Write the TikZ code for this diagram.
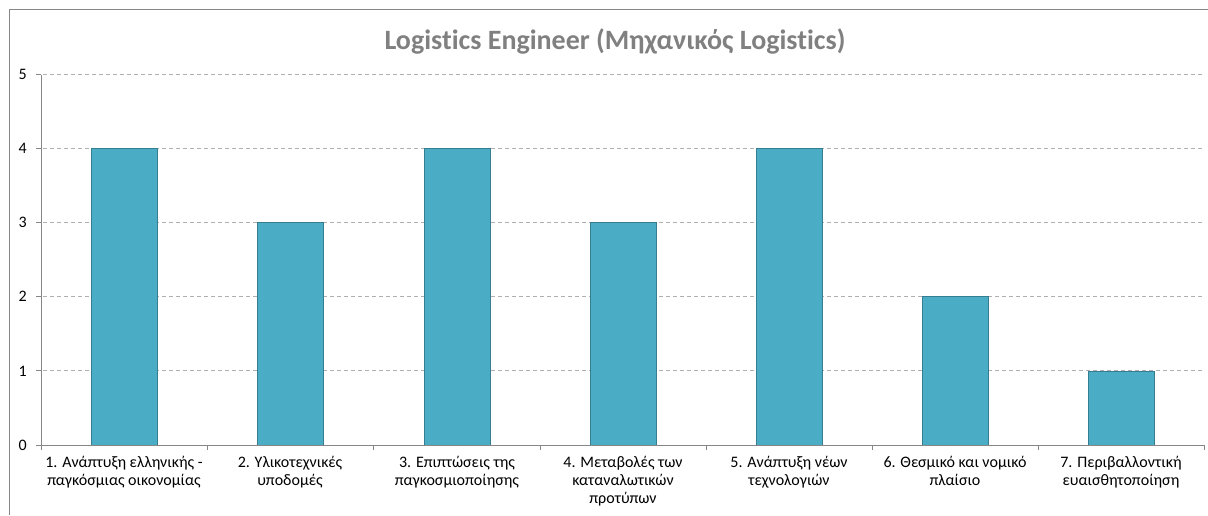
\documentclass[tikz,border=0pt]{standalone}
\usepackage{fontspec}
\setmainfont{Carlito}[Ligatures={NoCommon}]

\definecolor{barfill}{HTML}{4BACC6}
\definecolor{barline}{HTML}{357D91}
\definecolor{gridgray}{HTML}{B0B0B0}
\definecolor{axisgray}{HTML}{868686}
\definecolor{titlegray}{HTML}{808080}

\tikzset{
    gridline/.style={draw=gridgray, dash pattern=on 4pt off 3pt, line width=0.9pt},
    axisline/.style={draw=axisgray, line width=0.9pt},
    bar/.style={fill=barfill, draw=barline, line width=0.8pt},
    ylab/.style={font=\fontsize{16}{18}\selectfont, anchor=east, inner sep=0pt},
    catlab/.style={font=\fontsize{16}{18}\selectfont, anchor=north, align=center, inner sep=0pt}
}

\begin{document}
\begin{tikzpicture}[x=1pt, y=-1pt]
        \useasboundingbox (0,0) rectangle (1208,515);
        \draw[draw=axisgray, line width=1pt] (9,515) -- (9,9) -- (1208,9);

        % Titel
        \node[font=\fontsize{28}{32}\selectfont\bfseries, text=titlegray] (title) at (615,41) {Logistics Engineer (Μηχανικός Logistics)};

        % Gitterlinien
        \draw[gridline] (36,74.5) -- (1203,74.5);
        \draw[gridline] (36,148.6) -- (1203,148.6);
        \draw[gridline] (36,222.7) -- (1203,222.7);
        \draw[gridline] (36,296.8) -- (1203,296.8);
        \draw[gridline] (36,370.9) -- (1203,370.9);

        % Balken
        \draw[bar] (91,445) rectangle (157,148.6);
        \draw[bar] (257,445) rectangle (323,222.7);
        \draw[bar] (424,445) rectangle (490,148.6);
        \draw[bar] (590,445) rectangle (656,222.7);
        \draw[bar] (756,445) rectangle (822,148.6);
        \draw[bar] (922,445) rectangle (988,296.8);
        \draw[bar] (1088,445) rectangle (1154,370.9);

        % Achsen
        \draw[axisline] (41,74.5) -- (41,445);
        \draw[axisline] (36,445) -- (1204,445);
        \draw[axisline] (36,74.5) -- (41,74.5);
        \draw[axisline] (36,148.6) -- (41,148.6);
        \draw[axisline] (36,222.7) -- (41,222.7);
        \draw[axisline] (36,296.8) -- (41,296.8);
        \draw[axisline] (36,370.9) -- (41,370.9);
        \draw[axisline] (41,445) -- (41,450);
        \draw[axisline] (207,445) -- (207,450);
        \draw[axisline] (373,445) -- (373,450);
        \draw[axisline] (540,445) -- (540,450);
        \draw[axisline] (706,445) -- (706,450);
        \draw[axisline] (872,445) -- (872,450);
        \draw[axisline] (1038,445) -- (1038,450);
        \draw[axisline] (1204,445) -- (1204,450);

        % y-Werte
        \node[ylab] (y0) at (27,445) {0};
        \node[ylab] (y1) at (27,370.9) {1};
        \node[ylab] (y2) at (27,296.8) {2};
        \node[ylab] (y3) at (27,222.7) {3};
        \node[ylab] (y4) at (27,148.6) {4};
        \node[ylab] (y5) at (27,74.5) {5};

        % Kategorien
        \node[catlab] (c1) at (124,456) {1. Ανάπτυξη ελληνικής -\\παγκόσμιας οικονομίας};
        \node[catlab] (c2) at (290,456) {2. Υλικοτεχνικές\\υποδομές};
        \node[catlab] (c3) at (457,456) {3. Επιπτώσεις της\\παγκοσμιοποίησης};
        \node[catlab] (c4) at (623,456) {4. Μεταβολές των\\καταναλωτικών\\προτύπων};
        \node[catlab] (c5) at (789,456) {5. Ανάπτυξη νέων\\τεχνολογιών};
        \node[catlab] (c6) at (955,456) {6. Θεσμικό και νομικό\\πλαίσιο};
        \node[catlab] (c7) at (1121,456) {7. Περιβαλλοντική\\ευαισθητοποίηση};
\end{tikzpicture}
\end{document}
